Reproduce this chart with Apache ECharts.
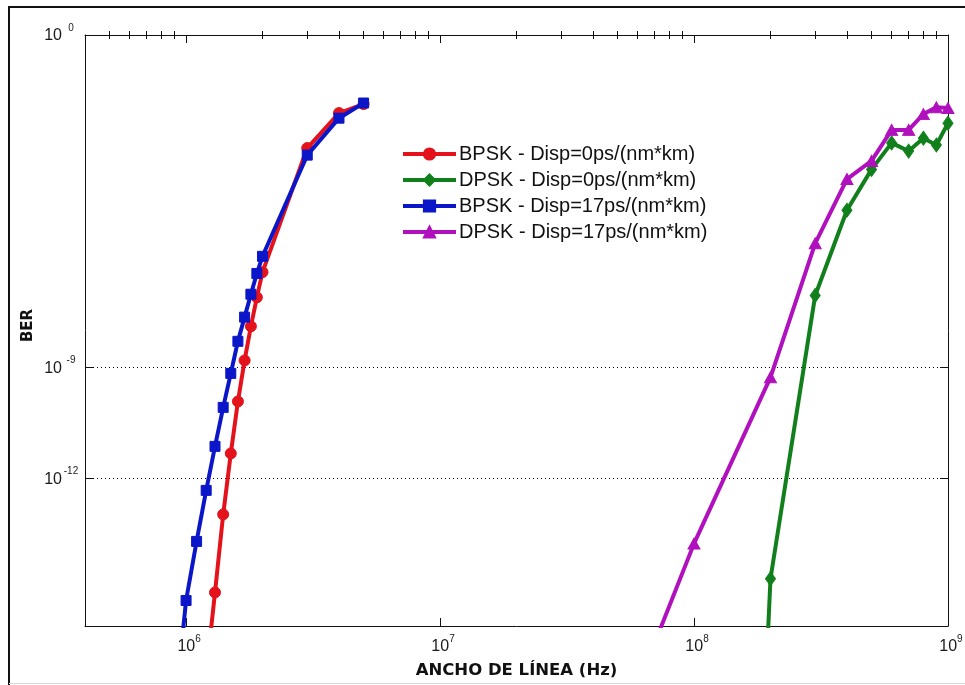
<!DOCTYPE html>
<html>
<head>
<meta charset="utf-8">
<script src="https://cdn.jsdelivr.net/npm/echarts@6/dist/echarts.min.js"></script>
<style>
  html, body { margin: 0; padding: 0; background: #ffffff; }
  #chart { width: 965px; height: 685px; }
</style>
</head>
<body>
<div id="chart"></div>
<script>
// Laser linewidth (Hz) and resulting BER for each modulation / dispersion case
const freqBpsk0 = [1.2e6, 1.3e6, 1.4e6, 1.5e6, 1.6e6, 1.7e6, 1.8e6, 1.9e6, 2.0e6, 3e6, 4e6, 5e6];
const berBpsk0  = [5e-18, 8.1e-16, 1.05e-13, 4.7e-12, 1.2e-10, 1.55e-9, 1.3e-8, 7.9e-8, 3.8e-7, 8.7e-4, 7.7e-3, 1.35e-2];

const freqDpsk0 = [1e8, 2e8, 3e8, 4e8, 5e8, 6e8, 7e8, 8e8, 9e8, 1e9];
const berDpsk0  = [1e-60, 1.9e-15, 8.9e-8, 1.8e-5, 2.3e-4, 1.2e-3, 7.2e-4, 1.6e-3, 1.05e-3, 4.1e-3];

const freqBpsk17 = [0.9e6, 1.0e6, 1.1e6, 1.2e6, 1.3e6, 1.4e6, 1.5e6, 1.6e6, 1.7e6, 1.8e6, 1.9e6, 2.0e6, 3e6, 4e6, 5e6];
const berBpsk17  = [4e-19, 4.9e-16, 1.95e-14, 4.7e-13, 7.3e-12, 8.3e-11, 6.9e-10, 5.1e-9, 2.3e-8, 9.6e-8, 3.5e-7, 1.02e-6, 5.6e-4, 5.6e-3, 1.44e-2];

const freqDpsk17 = [5e7, 1e8, 2e8, 3e8, 4e8, 5e8, 6e8, 7e8, 8e8, 9e8, 1e9];
const berDpsk17  = [1e-19, 1.7e-14, 5.4e-10, 2.3e-6, 1.26e-4, 3.9e-4, 2.7e-3, 2.7e-3, 7.2e-3, 1.1e-2, 1.05e-2];

const seriesNames = [
  'BPSK - Disp=0ps/(nm*km)',
  'DPSK - Disp=0ps/(nm*km)',
  'BPSK - Disp=17ps/(nm*km)',
  'DPSK - Disp=17ps/(nm*km)'
];

// Axis ranges and labelled decades
const xRange = [4e5, 1e9];
const yRange = [1e-16, 1e0];
const xDecades = [1e6, 1e7, 1e8, 1e9];
const yDecades = [1e0, 1e-9, 1e-12];

const lg = Math.log10;
const toPoints = (xs, ys) => xs.map((x, i) => [lg(x), lg(ys[i])]);

// minor ticks at 2..9 times each power of ten inside the x range
const xMinor = [];
for (let p = 5; p <= 8; p++) {
  for (let k = 2; k <= 9; k++) {
    const v = k * Math.pow(10, p);
    if (v > xRange[0] && v < xRange[1]) xMinor.push(lg(v));
  }
}
const xMajorLog = xDecades.map(lg);
const yMajorLog = yDecades.map(v => Math.round(lg(v)));

const FONT = "'Liberation Sans', Arial, Helvetica, sans-serif";
const TITLE_FONT = "'DejaVu Sans', 'Liberation Sans', sans-serif";
const INK = '#111111';
const LABEL_INK = '#1a1a1a';

// "10" with a raised exponent: both tokens hang from the top of a 24px line,
// the base is pushed down by its top padding so the exponent sits above it
const baseTok = { fontFamily: FONT, fontSize: 16, color: LABEL_INK, lineHeight: 24, verticalAlign: 'top' };
const supTok = { fontFamily: FONT, fontSize: 10, color: LABEL_INK, lineHeight: 10, verticalAlign: 'top' };
const powRichX = {
  b: Object.assign({}, baseTok, { padding: [5, 0, 0, 6] }),
  s: supTok
};
const powRichY = {
  b: Object.assign({}, baseTok, { padding: [5, 0, 0, 0] }),
  s: Object.assign({}, supTok, { width: 18, align: 'left' })
};
const powLabel = v => '{b|10}{s|' + Math.round(v) + '}';

const xCommon = {
  type: 'value',
  min: lg(xRange[0]),
  max: lg(xRange[1]),
  splitLine: { show: false },
  axisLine: { show: false },
  axisLabel: { show: false },
  axisTick: { show: true, inside: true, lineStyle: { color: INK, width: 1 } }
};
const yCommon = {
  type: 'value',
  min: lg(yRange[0]),
  max: lg(yRange[1]),
  splitLine: { show: false },
  axisLine: { show: false },
  axisLabel: { show: false },
  axisTick: { show: true, inside: true, length: 8, customValues: yMajorLog, lineStyle: { color: INK, width: 1 } }
};

function merge(base, extra) {
  const out = JSON.parse(JSON.stringify(base));
  for (const k in extra) {
    if (extra[k] && typeof extra[k] === 'object' && !Array.isArray(extra[k]) && out[k]) {
      out[k] = Object.assign({}, out[k], extra[k]);
    } else {
      out[k] = extra[k];
    }
  }
  return out;
}

const colors = ['#e3121b', '#11801c', '#0b16c9', '#b010bd'];
const symbols = ['circle', 'diamond', 'rect', 'triangle'];
const symbolSizes = [11, [10, 14], 10, [12, 11]];
const seriesData = [
  toPoints(freqBpsk0, berBpsk0),
  toPoints(freqDpsk0, berDpsk0),
  toPoints(freqBpsk17, berBpsk17),
  toPoints(freqDpsk17, berDpsk17)
];

const chart = echarts.init(document.getElementById('chart'), null, { renderer: 'canvas' });

chart.setOption({
  animation: false,
  backgroundColor: '#ffffff',
  grid: { left: 85, right: 17, top: 35, bottom: 59, containLabel: false, outerBoundsMode: 'none', show: false },
  legend: {
    orient: 'vertical',
    left: 401,
    top: 144,
    itemWidth: 53,
    itemHeight: 14,
    itemGap: 6,
    padding: 0,
    data: seriesNames,
    lineStyle: { width: 4 },
    textStyle: { fontFamily: FONT, fontSize: 20, lineHeight: 20, color: INK, padding: [0, 0, 0, -2] }
  },
  xAxis: [
    merge(xCommon, {
      position: 'bottom',
      axisLine: { show: true, onZero: false, lineStyle: { color: INK, width: 1 } },
      axisTick: { length: 8, customValues: xMajorLog },
      axisLabel: { show: true, customValues: xMajorLog, margin: 8, formatter: powLabel, rich: powRichX },
      name: 'ANCHO DE LÍNEA (Hz)',
      nameLocation: 'middle',
      nameGap: 36,
      nameTextStyle: { fontFamily: TITLE_FONT, fontWeight: 'bold', fontSize: 16.5, color: INK }
    }),
    merge(xCommon, { position: 'bottom', axisTick: { length: 4, customValues: xMinor } }),
    merge(xCommon, {
      position: 'top',
      axisLine: { show: true, onZero: false, lineStyle: { color: INK, width: 1 } },
      axisTick: { length: 8, customValues: xMajorLog }
    }),
    merge(xCommon, { position: 'top', axisTick: { length: 4, customValues: xMinor } })
  ],
  yAxis: [
    merge(yCommon, {
      position: 'left',
      axisLine: { show: true, onZero: false, lineStyle: { color: INK, width: 1 } },
      axisLabel: { show: true, customValues: yMajorLog, margin: 5, formatter: powLabel, rich: powRichY },
      splitLine: { show: true, lineStyle: { color: '#000000', width: 1, type: [1, 3] } },
      name: 'BER',
      nameLocation: 'middle',
      nameRotate: 90,
      nameGap: 49,
      nameMoveOverlap: false,
      nameTextStyle: { fontFamily: TITLE_FONT, fontWeight: 'bold', fontSize: 15, color: INK, padding: [0, 0, 0, 10] }
    }),
    merge(yCommon, {
      position: 'right',
      axisLine: { show: true, onZero: false, lineStyle: { color: INK, width: 1 } }
    })
  ],
  series: seriesNames.map((name, i) => ({
    type: 'line',
    name: name,
    xAxisIndex: 0,
    yAxisIndex: 0,
    data: seriesData[i],
    symbol: symbols[i],
    symbolSize: symbolSizes[i],
    showSymbol: true,
    showAllSymbol: true,
    clip: true,
    color: colors[i],
    lineStyle: { width: 4, color: colors[i] },
    itemStyle: { color: colors[i], borderColor: colors[i], borderWidth: 1 },
    emphasis: { disabled: true },
    z: 2 + i
  })),
  graphic: [
    {
      type: 'polyline',
      silent: true,
      shape: { points: [[9, 685], [9, 7], [965, 7]] },
      style: { stroke: '#111111', lineWidth: 2, fill: null }
    },
    {
      type: 'line',
      silent: true,
      shape: { x1: 9, y1: 683.5, x2: 965, y2: 683.5 },
      style: { stroke: '#d8d8d8', lineWidth: 1 }
    }
  ]
});
</script>
</body>
</html>
